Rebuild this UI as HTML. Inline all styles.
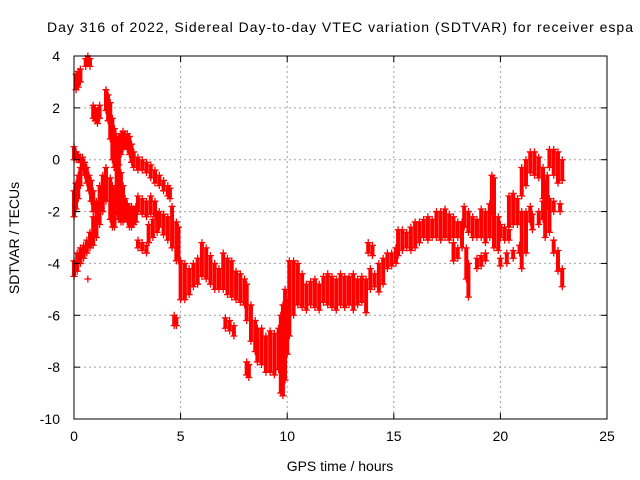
<!DOCTYPE html>
<html><head><meta charset="utf-8"><style>
body{margin:0;background:#fff;}
svg{display:block;font-family:"Liberation Sans",sans-serif;}
</style></head><body>
<svg id="chart" width="640" height="480">
<text x="47" y="32" font-size="14" textLength="586" lengthAdjust="spacing">Day 316 of 2022, Sidereal Day-to-day VTEC variation (SDTVAR) for receiver espa</text>
<text x="340" y="471" text-anchor="middle" font-size="14">GPS time / hours</text>
<text transform="translate(19,238) rotate(-90)" text-anchor="middle" font-size="14">SDTVAR / TECUs</text>
<g id="grid"></g>
<g id="marks"></g>
<rect x="74" y="56" width="533" height="363" fill="none" stroke="#000" stroke-width="1"/>
<g id="ticks"></g>
</svg>
<script>
const xTicks=[0,5,10,15,20,25];
const yTicks=[4,2,0,-2,-4,-6,-8,-10];
// bands: [hour, high, low]
const bands=[
[0.0,0.5,0.0],[0.1,0.3,0.0],[0.2,0.2,0.0],[0.3,0.1,-0.1],
[0.0,-1.2,-2.2],[0.1,-0.9,-1.9],[0.2,-0.6,-1.5],[0.3,-0.3,-1.0],
[0.0,-3.9,-4.5],[0.15,-3.6,-4.3],[0.3,-3.4,-4.0],[0.45,-3.3,-3.8],[0.6,-3.1,-3.6],[0.75,-2.8,-3.4],[0.9,-2.2,-3.3],[1.05,-1.6,-3.0],[1.2,-1.0,-2.5],[1.35,-0.6,-2.0],[1.5,-0.3,-1.6],
[0.1,3.3,2.7],[0.2,3.4,2.8],[0.3,3.5,3.0],
[0.55,3.9,3.6],[0.65,4.0,3.7],[0.75,3.9,3.6],
[0.4,0.1,-0.3],[0.5,-0.1,-0.6],[0.6,-0.3,-0.9],[0.7,-0.6,-1.2],[0.8,-0.8,-1.6],[0.9,-1.2,-2.0],
[0.9,2.1,1.6],[1.0,2.0,1.5],[1.1,1.9,1.4],[1.2,2.1,1.6],
[1.5,2.7,1.9],[1.6,2.5,1.5],[1.7,2.2,0.8],[1.8,1.6,0.0],[1.9,1.2,-0.3],[2.0,0.9,-0.4],[2.1,0.9,-0.2],[2.2,1.0,0.2],[2.3,1.1,0.4],[2.4,1.0,0.5],[2.5,1.0,0.4],[2.6,0.9,0.2],[2.7,0.6,-0.1],[2.8,0.3,-0.3],
[1.7,-0.7,-2.3],[1.8,-1.0,-2.6],[1.9,-1.2,-2.6],
[2.0,0.3,-2.0],[2.1,0.2,-2.3],[2.2,-0.5,-2.4],[2.3,-1.0,-2.4],[2.4,-1.5,-2.2],[2.5,-1.7,-2.4],[2.6,-1.8,-2.6],[2.7,-1.8,-2.6],[2.8,-1.9,-2.5],[2.9,-1.8,-2.4],
[3.0,-1.4,-2.0],[3.2,-1.5,-2.1],[3.4,-1.6,-2.2],[3.6,-1.4,-2.1],[3.8,-1.6,-2.2],
[3.0,0.1,-0.4],[3.2,0.0,-0.4],[3.4,-0.1,-0.5],[3.6,-0.2,-0.7],[3.8,-0.4,-0.9],
[4.0,-0.6,-1.0],[4.2,-0.8,-1.2],[4.4,-1.0,-1.4],[4.5,-1.1,-1.5],
[3.0,-3.1,-3.4],[3.2,-3.2,-3.5],[3.4,-3.3,-3.6],
[3.5,-2.5,-3.2],[3.7,-2.3,-3.0],[3.9,-2.1,-2.8],
[4.0,-2.0,-2.6],[4.2,-2.1,-2.9],[4.4,-2.2,-3.1],[4.6,-1.8,-3.4],[4.8,-2.4,-3.9],[4.9,-2.6,-3.9],
[4.7,-6.0,-6.4],[4.8,-6.1,-6.4],[0.65,-4.6,-4.6],
[5.0,-3.9,-5.4],[5.2,-4.0,-5.4],[5.4,-4.2,-5.2],[5.6,-4.0,-4.9],[5.8,-3.8,-4.8],[6.0,-3.2,-4.5],[6.2,-3.4,-4.6],[6.4,-3.7,-4.8],[6.6,-4.0,-5.0],[6.8,-4.2,-5.0],
[7.0,-3.6,-5.0],[7.2,-3.8,-5.2],[7.4,-3.9,-5.3],[7.6,-4.3,-5.4],[7.8,-4.4,-5.5],[8.0,-4.6,-5.6],
[7.1,-6.1,-6.5],[7.3,-6.2,-6.6],[7.5,-6.4,-6.8],
[8.1,-4.8,-6.2],[8.3,-5.6,-7.0],[8.5,-6.2,-7.4],
[8.1,-7.8,-8.3],[8.2,-7.9,-8.4],
[8.6,-6.5,-7.8],[8.8,-6.5,-7.9],[9.0,-6.8,-8.2],[9.2,-6.6,-8.2],[9.4,-6.7,-8.3],[9.6,-6.5,-8.1],[9.7,-6.0,-9.0],[9.8,-5.6,-9.1],[9.9,-5.0,-8.5],[10.0,-5.5,-7.5],
[10.1,-3.9,-6.8],[10.3,-3.9,-6.0],[10.5,-4.0,-5.6],[10.7,-4.4,-5.7],[10.9,-4.8,-5.8],[11.1,-4.7,-5.6],[11.3,-4.6,-5.7],[11.5,-4.8,-5.8],[11.7,-4.5,-5.5],[11.9,-4.4,-5.6],[12.1,-4.5,-5.7],[12.3,-4.6,-5.8],[12.5,-4.4,-5.6],[12.7,-4.5,-5.7],[12.9,-4.5,-5.6],[13.1,-4.4,-5.8],[13.3,-4.6,-5.6],[13.5,-4.5,-5.5],[13.7,-4.6,-5.9],
[13.8,-3.2,-3.6],[14.0,-3.3,-3.7],
[13.9,-4.2,-5.0],[14.1,-4.4,-4.9],
[14.3,-4.0,-5.1],[14.5,-3.8,-4.8],[14.7,-3.6,-4.2],[14.9,-3.6,-4.1],[15.1,-3.4,-4.0],
[15.2,-2.7,-3.7],[15.4,-2.7,-3.5],[15.6,-2.8,-3.4],[15.8,-2.6,-3.5],[16.0,-2.4,-3.4],[16.2,-2.4,-3.2],[16.4,-2.3,-3.0],[16.6,-2.2,-3.1],[16.8,-2.3,-3.0],[17.0,-2.0,-3.0],[17.2,-2.0,-3.1],[17.4,-1.9,-3.0],[17.6,-2.1,-3.1],[17.8,-2.2,-3.0],[18.0,-2.4,-3.0],
[17.8,-3.2,-3.9],[18.0,-3.4,-3.8],
[18.2,-2.4,-3.4],[18.4,-3.4,-4.6],[18.5,-4.0,-5.3],
[18.3,-1.8,-2.6],[18.5,-2.0,-2.8],[18.7,-2.2,-3.0],[18.9,-2.3,-3.0],
[18.9,-3.8,-4.2],[19.1,-3.7,-4.1],[19.3,-3.6,-3.9],
[19.1,-1.9,-3.0],[19.3,-2.0,-3.2],[19.5,-1.7,-3.0],[19.6,-0.6,-2.0],[19.7,-0.7,-3.4],[19.9,-2.2,-3.5],
[20.0,-2.5,-3.0],[20.2,-2.6,-3.1],[20.4,-2.7,-3.1],
[20.0,-3.8,-4.1],[20.3,-3.6,-4.0],[20.6,-3.5,-3.8],[20.9,-3.3,-3.6],
[20.4,-1.4,-2.6],[20.6,-1.3,-2.5],[20.8,-1.5,-2.5],
[21.0,-2.0,-4.2],[21.2,-2.0,-3.6],[21.4,-1.8,-2.4],
[21.0,-0.3,-1.4],[21.2,0.0,-1.0],[21.4,0.3,-0.5],[21.6,0.3,-0.6],[21.8,0.1,-0.7],[22.0,-0.3,-1.5],[22.2,-0.6,-1.8],
[21.5,-2.1,-2.7],[21.8,-2.0,-2.5],[22.0,-1.6,-2.3],
[22.1,-0.9,-3.0],[22.3,-1.5,-2.8],
[22.3,0.4,-0.3],[22.5,0.4,-0.6],[22.7,0.3,-0.9],[22.9,0.0,-0.8],
[22.5,-1.6,-2.0],[22.8,-1.7,-2.0],
[22.5,-3.1,-3.6],[22.7,-3.5,-4.3],[22.9,-4.2,-4.9]
];
const NS='http://www.w3.org/2000/svg';
const X0=74,X1=607,Y0=419,Y1=56;
function xs(t){return X0+(t-0)/(25-0)*(X1-X0);}
function ys(v){return Y0-(v+10)/(14)*(Y0-Y1);}
function mk(tag,attrs,parent){const e=document.createElementNS(NS,tag);for(const k in attrs)e.setAttribute(k,attrs[k]);parent.appendChild(e);return e;}
const grid=document.getElementById('grid'),ticks=document.getElementById('ticks'),marks=document.getElementById('marks');
xTicks.forEach(t=>{const x=xs(t);
 if(t>0&&t<25){const g=mk('line',{x1:x,x2:x,y1:Y1,y2:Y0,stroke:'#a0a0a0','stroke-dasharray':'2,3'},grid);
 
 }
 mk('line',{x1:x,x2:x,y1:Y0,y2:Y0-6,stroke:'#000'},ticks);
 mk('line',{x1:x,x2:x,y1:Y1,y2:Y1+6,stroke:'#000'},ticks);
 const l=mk('text',{x:x,y:Y0+22,'text-anchor':'middle','font-size':'14'},ticks);l.textContent=t;
 
 
});
yTicks.forEach(v=>{const y=ys(v);
 if(v<4&&v>-10){const g=mk('line',{x1:X0,x2:X1,y1:y,y2:y,stroke:'#a0a0a0','stroke-dasharray':'2,3'},grid);
 
 }
 mk('line',{x1:X0,x2:X0+6,y1:y,y2:y,stroke:'#000'},ticks);
 mk('line',{x1:X1,x2:X1-6,y1:y,y2:y,stroke:'#000'},ticks);
 const l=mk('text',{x:X0-14,y:y+5,'text-anchor':'end','font-size':'14'},ticks);l.textContent=v;
 
 
});
function cross(x,y){return 'M'+(x-3.5)+' '+y+'h7M'+x+' '+(y-3.5)+'v7';}
bands.forEach(b=>{const x=xs(b[0]),yh=ys(b[1]),yl=ys(b[2]);
 const g=mk('g',{},marks);
 
 
 if(yl-yh>1)mk('rect',{x:x-2,y:yh,width:4,height:yl-yh,fill:'#ff0000'},g);
 mk('path',{d:cross(x,yh)+cross(x,yl),stroke:'#ff0000','stroke-width':'1.3',fill:'none'},g);
});
</script>
</body></html>
